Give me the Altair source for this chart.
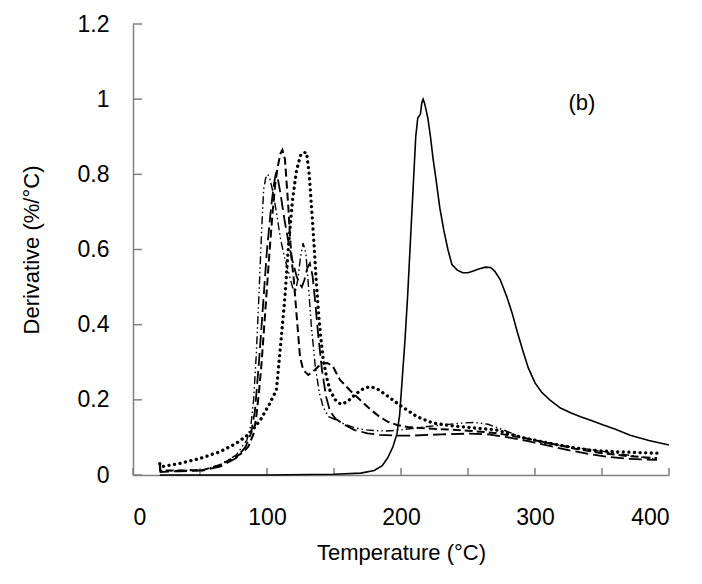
import altair as alt
import pandas as pd

# ---- data (Temperature °C, Derivative %/°C) ----
S_x = [20, 60, 100, 150, 170, 180, 186, 190, 194, 197, 199, 201, 203, 205, 207, 209, 211, 212.5, 213.5, 214.5,
       215.5, 216.5, 217.5, 218.5, 220, 222, 224, 226, 229, 232, 235, 238, 242, 246, 250, 254, 258, 263, 267, 270,
       274, 279, 283, 287, 291, 295, 300, 305, 311, 319, 327, 334, 342, 351, 360, 371, 385, 400]
S_y = [0.0, 0.0, 0.0, 0.002, 0.005, 0.012, 0.025, 0.045, 0.075, 0.11, 0.16, 0.26, 0.36, 0.48, 0.62, 0.76, 0.9, 0.95, 0.955, 0.96,
       0.99, 1.0, 0.99, 0.975, 0.95, 0.9, 0.84, 0.79, 0.71, 0.65, 0.6, 0.56, 0.545, 0.538, 0.538, 0.543, 0.548, 0.553, 0.552, 0.542,
       0.52, 0.474, 0.43, 0.378, 0.33, 0.285, 0.245, 0.22, 0.2, 0.178, 0.165, 0.155, 0.145, 0.133, 0.122, 0.106, 0.092, 0.08]

P_x = [20, 21, 35, 50, 65, 77, 87, 95, 102, 107, 110, 113.4, 116, 119, 122, 125, 127, 129.5, 131.5, 133.5,
       135, 136.5, 138.5, 140, 142, 144.5, 147, 151, 155, 160, 166, 172, 177, 182, 190, 199, 212, 224, 240, 255,
       271, 290, 310, 325, 341, 360, 375, 391]
P_y = [0.03, 0.022, 0.031, 0.044, 0.062, 0.084, 0.11, 0.146, 0.19, 0.226, 0.34, 0.475, 0.61, 0.73, 0.81, 0.85, 0.858, 0.858, 0.8, 0.7,
       0.62, 0.53, 0.43, 0.37, 0.306, 0.26, 0.225, 0.2, 0.188, 0.195, 0.215, 0.23, 0.235, 0.23, 0.21, 0.186, 0.155, 0.138, 0.13, 0.125,
       0.12, 0.1, 0.085, 0.075, 0.066, 0.062, 0.06, 0.058]

L_x = [20, 20.5, 35, 52, 65, 77, 82, 86, 90, 92, 94, 96, 98, 100, 102, 104, 106, 108, 110, 111.5,
       113.4, 115.9, 117, 118.4, 120, 122, 124.6, 127, 130.8, 135.8, 140, 145, 149, 154.5, 162, 169.4, 177, 184, 190, 197,
       205, 215, 230, 250, 270, 290, 310, 330, 350, 370, 391]
L_y = [0.03, 0.012, 0.012, 0.013, 0.027, 0.049, 0.06, 0.075, 0.11, 0.155, 0.22, 0.3, 0.4, 0.5, 0.6, 0.69, 0.77, 0.82, 0.855, 0.865,
       0.84, 0.714, 0.643, 0.572, 0.52, 0.43, 0.315, 0.28, 0.266, 0.28, 0.295, 0.298, 0.29, 0.253, 0.225, 0.2, 0.175, 0.155, 0.142, 0.133,
       0.128, 0.125, 0.122, 0.118, 0.112, 0.1, 0.085, 0.07, 0.058, 0.05, 0.045]

M_x = [20, 20.5, 35, 52, 65, 77, 84, 88, 91, 94, 97, 100, 103, 105, 106.5, 108, 110, 113, 116, 119,
       122, 124, 126, 128, 130, 132, 134, 136, 138, 141, 144, 147, 151, 157, 165, 175, 184, 195, 210, 230,
       250, 265, 280, 295, 310, 325, 340, 355, 370, 391]
M_y = [0.02, 0.008, 0.01, 0.012, 0.022, 0.045, 0.075, 0.11, 0.17, 0.3, 0.45, 0.6, 0.71, 0.77, 0.8, 0.79, 0.75, 0.68, 0.62, 0.57,
       0.53, 0.51, 0.5, 0.52, 0.55, 0.563, 0.53, 0.46, 0.38, 0.28, 0.21, 0.17, 0.15, 0.135, 0.12, 0.111, 0.107, 0.105, 0.105, 0.108,
       0.11, 0.108, 0.1, 0.09, 0.078, 0.066, 0.056, 0.048, 0.043, 0.04]

D_x = [20, 20.5, 35, 52, 65, 77, 85, 88, 90, 92, 94, 96, 97.5, 99, 100.5, 102, 104, 107, 110, 113,
       116, 119, 121, 123, 125, 127, 129, 131, 133, 136, 139, 142, 146, 152, 158, 166, 174, 182, 189, 200,
       215, 230, 245, 255, 265, 280, 290, 305, 320, 341, 360, 375, 391]
D_y = [0.025, 0.01, 0.012, 0.013, 0.027, 0.053, 0.093, 0.133, 0.2, 0.32, 0.48, 0.65, 0.76, 0.79, 0.8, 0.79, 0.76, 0.7, 0.63, 0.58,
       0.54, 0.5, 0.484, 0.52, 0.58, 0.617, 0.59, 0.5, 0.4, 0.29, 0.22, 0.18, 0.155, 0.146, 0.135, 0.125, 0.12, 0.118, 0.117, 0.12,
       0.127, 0.133, 0.138, 0.14, 0.135, 0.115, 0.1, 0.088, 0.078, 0.068, 0.058, 0.05, 0.041]

X_TICKS = [0, 50, 100, 150, 200, 250, 300, 350, 400]
X_LABELS = [0, 100, 200, 300, 400]
Y_TICKS = [0, 0.2, 0.4, 0.6, 0.8, 1.0, 1.2]
PANEL_LABEL = "(b)"
PANEL_POS = (335, 0.99)

GRAY = "#808080"
FONT = "Liberation Sans"
FS = 23

frames = []
for name, xs, ys in [("S", S_x, S_y), ("P", P_x, P_y), ("L", L_x, L_y), ("M", M_x, M_y), ("D", D_x, D_y)]:
    frames.append(pd.DataFrame({"T": xs, "D": ys, "s": name}))
df = pd.concat(frames, ignore_index=True)

xscale = alt.Scale(domain=[0, 400], nice=False, zero=False)
yscale = alt.Scale(domain=[0, 1.2], nice=False)

xaxis = alt.Axis(values=X_LABELS, ticks=False, grid=False, domainColor=GRAY, domainWidth=1.5,
                 labelFontSize=FS, labelFont=FONT, labelColor="black", labelPadding=31,
                 titleFontSize=FS - 1, titleFont=FONT, titleFontWeight="normal", titleColor="black", titlePadding=13)
yaxis = alt.Axis(values=Y_TICKS, format="~g", ticks=False, grid=False, domainColor=GRAY, domainWidth=1.5,
                 labelFontSize=FS, labelFont=FONT, labelColor="black", labelPadding=24,
                 titleFontSize=FS - 1, titleFont=FONT, titleFontWeight="normal", titleColor="black", titlePadding=34)

XT = "Temperature (°C)"
YT = "Derivative (%/°C)"


def line(name, **kw):
    return alt.Chart(df).transform_filter(alt.datum.s == name).mark_line(color="black", **kw).encode(
        x=alt.X("T:Q", scale=xscale, axis=xaxis, title=XT),
        y=alt.Y("D:Q", scale=yscale, axis=yaxis, title=YT),
    )


solid = line("S", strokeWidth=1.6)
dotted = line("P", strokeWidth=3.3, strokeDash=[0.1, 5.5], strokeCap="round")
dashed = line("L", strokeWidth=2.0, strokeDash=[8, 4])
longdash = line("M", strokeWidth=1.8, strokeDash=[13, 5])
ddd = line("D", strokeWidth=1.4, strokeDash=[8, 3, 1.5, 3, 1.5, 3])

xt = alt.Chart(pd.DataFrame({"T": X_TICKS})).mark_rule(color=GRAY, strokeWidth=1.5).encode(
    x=alt.X("T:Q", scale=xscale, axis=xaxis, title=XT), y=alt.value(451), y2=alt.value(444))
yt = alt.Chart(pd.DataFrame({"D": Y_TICKS})).mark_rule(color=GRAY, strokeWidth=1.5).encode(
    y=alt.Y("D:Q", scale=yscale, axis=yaxis, title=YT), x=alt.value(0), x2=alt.value(9))

label = alt.Chart(pd.DataFrame({"T": [PANEL_POS[0]], "D": [PANEL_POS[1]], "txt": [PANEL_LABEL]})).mark_text(
    fontSize=FS - 1, font=FONT, color="black", align="center", baseline="middle").encode(
    x=alt.X("T:Q", scale=xscale, axis=xaxis, title=XT),
    y=alt.Y("D:Q", scale=yscale, axis=yaxis, title=YT), text="txt:N")

chart = alt.layer(xt, yt, solid, dotted, dashed, longdash, ddd, label).properties(
    width=536, height=451,
    autosize=alt.AutoSizeParams(type="none"),
    padding={"left": 125, "top": 16, "right": 25, "bottom": 101},
    background="white",
).configure_view(stroke=None)

chart.save("out.html", embed_options={"renderer": "svg", "actions": False})
